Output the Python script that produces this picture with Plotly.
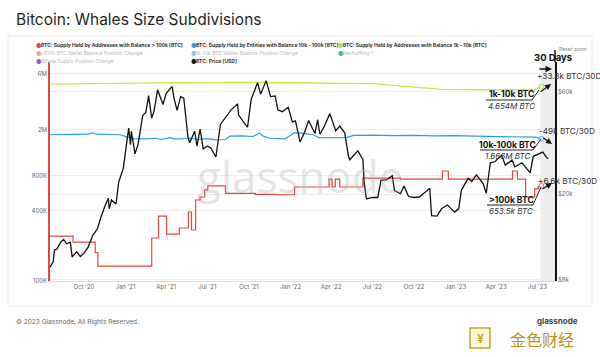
import plotly.graph_objects as go

# ---------------- data ----------------
price_dates = ["2020-07-18","2020-07-25","2020-07-28","2020-08-02","2020-08-10","2020-08-17","2020-08-24","2020-09-01","2020-09-05","2020-09-15","2020-09-23","2020-10-01","2020-10-10","2020-10-21","2020-10-31","2020-11-07","2020-11-17","2020-11-24","2020-11-26","2020-12-01","2020-12-11","2020-12-17","2020-12-27","2021-01-02","2021-01-08","2021-01-12","2021-01-14","2021-01-22","2021-01-29","2021-02-08","2021-02-15","2021-02-21","2021-02-28","2021-03-05","2021-03-13","2021-03-25","2021-04-01","2021-04-14","2021-04-18","2021-04-25","2021-05-03","2021-05-10","2021-05-13","2021-05-19","2021-05-23","2021-06-03","2021-06-08","2021-06-15","2021-06-22","2021-07-01","2021-07-08","2021-07-20","2021-07-30","2021-08-07","2021-08-14","2021-08-23","2021-09-06","2021-09-08","2021-09-20","2021-09-28","2021-10-06","2021-10-15","2021-10-20","2021-10-27","2021-11-08","2021-11-18","2021-11-28","2021-12-04","2021-12-14","2021-12-27","2022-01-05","2022-01-12","2022-01-22","2022-02-01","2022-02-10","2022-02-24","2022-03-02","2022-03-07","2022-03-16","2022-03-29","2022-04-11","2022-04-20","2022-05-01","2022-05-09","2022-05-12","2022-05-30","2022-06-10","2022-06-13","2022-06-18","2022-07-01","2022-07-13","2022-07-20","2022-08-01","2022-08-14","2022-08-19","2022-09-01","2022-09-09","2022-09-19","2022-10-01","2022-10-13","2022-10-29","2022-11-05","2022-11-09","2022-11-21","2022-12-01","2022-12-14","2022-12-30","2023-01-08","2023-01-14","2023-01-29","2023-02-06","2023-02-16","2023-03-03","2023-03-10","2023-03-19","2023-03-29","2023-04-13","2023-04-21","2023-05-06","2023-05-12","2023-05-28","2023-06-10","2023-06-15","2023-06-22","2023-07-01","2023-07-13","2023-07-20","2023-07-25"]
price_usd = [9150,9700,11000,11100,11900,12300,11750,11950,10200,10800,10250,10600,11300,12900,13800,15500,17700,19150,17100,18800,18000,22800,26300,32000,40600,34000,39200,30800,34300,46400,48000,57500,45200,48500,61200,52300,58900,63500,56300,49100,57000,55800,49700,37000,34700,39200,33500,40200,32500,33500,32900,29800,42200,44600,47100,49500,52600,46800,43000,41000,55300,61500,66000,58400,67500,56900,57300,49400,48400,50700,43400,43900,35000,38700,44000,38300,44400,38000,41100,47400,39500,41500,38500,30100,28900,31800,29000,22500,19000,19300,19300,23200,23300,24400,20800,20100,21800,19500,19300,19400,20800,21300,15900,15800,17100,17800,16500,17100,20900,23700,22900,24600,22400,20200,28000,28300,30400,27300,28800,26800,28000,25800,25100,30000,30600,31400,29900,29200]

green_dates = ["2020-07-18","2020-09-01","2020-11-01","2021-01-01","2021-03-01","2021-05-01","2021-07-01","2021-09-01","2021-11-01","2022-01-01","2022-04-01","2022-07-01","2022-09-01","2022-10-15","2022-12-01","2023-03-01","2023-06-01","2023-06-25","2023-07-10"]
green_1k_10k = [4.90e6,4.93e6,4.95e6,4.98e6,5.03e6,5.05e6,5.02e6,5.08e6,5.06e6,5.00e6,4.98e6,4.95e6,4.75e6,4.55e6,4.42e6,4.38e6,4.36e6,4.40e6,4.654e6]

blue_dates = ["2020-07-18","2020-08-15","2020-09-15","2020-10-10","2020-10-20","2020-10-28","2020-12-01","2020-12-20","2021-01-05","2021-01-20","2021-02-15","2021-03-10","2021-03-20","2021-04-10","2021-04-20","2021-05-10","2021-05-25","2021-06-10","2021-07-01","2021-07-20","2021-08-10","2021-08-20","2021-09-15","2021-10-10","2021-10-25","2021-11-01","2021-11-15","2021-12-20","2022-01-10","2022-01-25","2022-02-20","2022-03-05","2022-04-10","2022-05-05","2022-05-20","2022-07-01","2022-08-15","2022-10-01","2022-11-15","2023-01-01","2023-02-15","2023-04-01","2023-05-15","2023-06-10","2023-06-25","2023-07-10"]
blue_10k_100k = [1.80e6,1.81e6,1.80e6,1.82e6,1.88e6,1.82e6,1.81e6,1.80e6,1.72e6,1.67e6,1.66e6,1.68e6,1.64e6,1.70e6,1.65e6,1.66e6,1.68e6,1.64e6,1.67e6,1.63e6,1.64e6,1.75e6,1.76e6,1.74e6,1.86e6,1.76e6,1.68e6,1.66e6,1.88e6,1.86e6,1.80e6,1.70e6,1.69e6,1.70e6,1.78e6,1.79e6,1.77e6,1.78e6,1.76e6,1.77e6,1.75e6,1.74e6,1.72e6,1.70e6,1.715e6,1.666e6]

red_dates = ["2020-07-18","2020-09-07","2020-10-21","2020-10-26","2020-11-01","2021-02-28","2021-03-15","2021-04-02","2021-04-30","2021-05-20","2021-05-27","2021-06-05","2021-06-15","2021-06-25","2021-07-02","2021-08-10","2021-10-15","2021-12-01","2022-01-10","2022-03-27","2022-04-03","2022-04-10","2022-04-20","2022-06-10","2022-09-01","2022-12-03","2022-12-16","2023-05-07","2023-05-18","2023-06-05","2023-06-25","2023-07-03","2023-07-10"]
red_gt_100k = [243e3,216e3,216e3,175e3,134e3,234e3,361e3,253e3,285e3,391e3,274e3,496e3,526e3,605e3,655e3,565e3,555e3,550e3,641e3,750e3,641e3,750e3,641e3,765e3,750e3,880e3,750e3,880e3,750e3,526e3,618e3,647e3,653.5e3]

x_tick_dates = ["2020-10-01","2021-01-01","2021-04-01","2021-07-01","2021-10-01","2022-01-01","2022-04-01","2022-07-01","2022-10-01","2023-01-01","2023-04-01","2023-07-01"]
left_ticks = [1e5, 4e5, 8e5, 2e6, 6e6]
left_labels = ["100K", "400K", "800K", "2M", "6M"]
right_ticks = [8000, 20000, 60000]
right_labels = ["$8k", "$20k", "$60k"]

# ---------------- helpers (pixel -> paper) ----------------
PL, PR, PT, PB = 50, 555, 62, 281
def px(x): return (x - PL) / (PR - PL)
def py(y): return (PB - y) / (PB - PT)

RED, BLUE, GREEN, BLACK = "#e8463a", "#2e9be6", "#c5e84a", "#111111"
FONT = "Inter"

fig = go.Figure()

def end_markers(n, color):
    return dict(size=[0]*(n-1)+[5], color="white", line=dict(color=color, width=1))

fig.add_trace(go.Scatter(x=green_dates, y=green_1k_10k, mode="lines+markers", line=dict(color=GREEN, width=1.4),
                         marker=end_markers(len(green_dates), "#9bbf2a"), yaxis="y"))
fig.add_trace(go.Scatter(x=blue_dates, y=blue_10k_100k, mode="lines+markers", line=dict(color=BLUE, width=1.2),
                         marker=end_markers(len(blue_dates), BLUE), yaxis="y"))
fig.add_trace(go.Scatter(x=red_dates, y=red_gt_100k, mode="lines+markers", line=dict(color=RED, width=1.2, shape="hv"),
                         marker=end_markers(len(red_dates), RED), yaxis="y"))
fig.add_trace(go.Scatter(x=price_dates, y=price_usd, mode="lines", line=dict(color=BLACK, width=1.3), yaxis="y2"))

shapes = [
    dict(type="rect", xref="paper", yref="paper", x0=px(8), x1=px(592), y0=py(306), y1=py(36),
         line=dict(color="#ececec", width=1), fillcolor="rgba(0,0,0,0)", layer="below"),
    dict(type="rect", xref="x", yref="paper", x0="2023-07-08", x1="2023-08-09", y0=0, y1=1,
         fillcolor="#ededed", line=dict(width=0), layer="below"),
    dict(type="line", xref="paper", yref="paper", x0=1, x1=1, y0=1, y1=py(50),
         line=dict(color=BLACK, width=1.5)),
    dict(type="path", xref="paper", yref="paper",
         path=f"M {px(486)} {py(100)} L {px(532)} {py(100)} L {px(539)} {py(90)}",
         line=dict(color="#222", width=1)),
    dict(type="path", xref="paper", yref="paper",
         path=f"M {px(480)} {py(150)} L {px(533)} {py(150)} L {px(541)} {py(139)}",
         line=dict(color="#222", width=1)),
    dict(type="path", xref="paper", yref="paper",
         path=f"M {px(487)} {py(205)} L {px(533)} {py(205)} L {px(541)} {py(187)}",
         line=dict(color="#222", width=1)),
]

ann = []
def text(x, y, s, size, color="#222", anchor="left", bold=False, italic=False, fam=FONT, vanchor="middle"):
    if bold:
        s = f"<b>{s}</b>"
    if italic:
        s = f"<i>{s}</i>"
    ann.append(dict(x=px(x), y=py(y), xref="paper", yref="paper", text=s, showarrow=False,
                    xanchor=anchor, yanchor=vanchor, font=dict(size=size, color=color, family=fam)))

def arrow(x_head, y_head, x_tail, y_tail, width=1.2):
    ann.append(dict(x=px(x_head), y=py(y_head), xref="paper", yref="paper", text="", showarrow=True,
                    ax=x_tail - x_head, ay=y_tail - y_head, arrowhead=2, arrowsize=1, arrowwidth=width,
                    arrowcolor="#111"))

text(14, 20, "Bitcoin: Whales Size Subdivisions", 15.5, "#1f1f1f", fam="Inter")
text(14, 322, "© 2023 Glassnode, All Rights Reserved.", 6.5, "#666")

text(300, 176, "glassnode", 44, "rgba(170,170,170,0.32)", anchor="center", fam="Open Sans")

leg = [
    (37, 45, RED, "BTC: Supply Held by Addresses with Balance > 100k [BTC]", "#333"),
    (192, 45, BLUE, "BTC: Supply Held by Entities with Balance 10k - 100k [BTC]", "#333"),
    (339, 45, "#b5de2a", "BTC: Supply Held by Addresses with Balance 1k - 10k [BTC]", "#333"),
    (37, 53, "#f2a097", ">100k BTC Wallet Balance Position Change", "#b9b9b9"),
    (192, 53, "#86c6f1", "1k-10k BTC Wallet Balance Position Change", "#b9b9b9"),
    (339, 53, "#3fb5a5", "Reshuffling ?", "#b9b9b9"),
    (37, 61, "#9b59b6", "Whale Supply Position Change", "#b9b9b9"),
    (192, 61, BLACK, "BTC: Price [USD]", "#333"),
]
for x, y, c, s, tc in leg:
    text(x - 3, y, "●", 6, c)
    text(x + 2, y, s, 5, tc, bold=(tc == "#333"))

text(553, 57, "30 Days", 9.5, "#111", anchor="center", bold=True)
text(557, 49, "Reset zoom", 5, "#888", anchor="left")
arrow(552, 69, 538, 69, 1.3)

text(535, 76, "+33.8k BTC/30D", 8.2, "#333")
text(537, 131, "-49k BTC/30D", 8.2, "#333")
text(536, 181, "+6.6k BTC/30D", 8.2, "#333")
arrow(551, 84, 539, 93)
arrow(552, 144, 542, 137)
arrow(552, 183, 541, 190)

text(511, 94, "1k-10k BTC", 8.5, "#111", anchor="center", bold=True)
text(511, 106, "4.654M BTC", 8, "#333", anchor="center", italic=True)
text(507, 145, "10k-100k BTC", 8.5, "#111", anchor="center", bold=True)
text(507, 156, "1.666M BTC", 8, "#333", anchor="center", italic=True)
text(511, 200, ">100k BTC", 8.5, "#111", anchor="center", bold=True)
text(511, 211, "653.5k BTC", 8, "#333", anchor="center", italic=True)

shapes.append(dict(type="rect", xref="paper", yref="paper", x0=px(470), x1=px(490), y0=py(348), y1=py(328),
                   line=dict(color="#c9a227", width=1.5), fillcolor="#fff8dc"))
text(480, 338, "¥", 12, "#c9a227", anchor="center", bold=True)
text(557, 321, "glassnode", 8, "#444", anchor="center", bold=True)
text(542, 339, "金色财经", 16, "#b8931f", anchor="center", fam="Noto Sans CJK SC")

fig.update_layout(
    width=600, height=357,
    margin=dict(l=PL, r=600 - PR, t=PT, b=357 - PB, autoexpand=False),
    paper_bgcolor="white", plot_bgcolor="white",
    showlegend=False,
    shapes=shapes, annotations=ann,
    font=dict(family=FONT, size=6, color="#666"),
    xaxis=dict(type="date", range=["2020-07-18", "2023-08-09"], tickvals=x_tick_dates, tickformat="%b '%y",
               showgrid=False, showline=True, linecolor="#dddddd", linewidth=1, ticks="",
               tickfont=dict(size=6, color="#666"), automargin=False),
    yaxis=dict(type="log", range=[5, 6.88], tickvals=left_ticks, ticktext=left_labels,
               showgrid=True, gridcolor="#eeeeee", zeroline=False, showline=True, linecolor=RED, linewidth=1.6,
               tickfont=dict(size=6, color="#666"), ticks="", automargin=False),
    yaxis2=dict(type="log", overlaying="y", side="right", range=[3.897, 4.916], tickvals=right_ticks,
                ticktext=right_labels, showgrid=True, gridcolor="#eeeeee", zeroline=False,
                showline=True, linecolor=BLACK, linewidth=1.5, tickfont=dict(size=6, color="#666"), ticks="",
                automargin=False),
)

fig.write_html("out.html", config={"displayModeBar": False},
               post_script="document.body.style.margin='0';document.body.style.padding='0';")
